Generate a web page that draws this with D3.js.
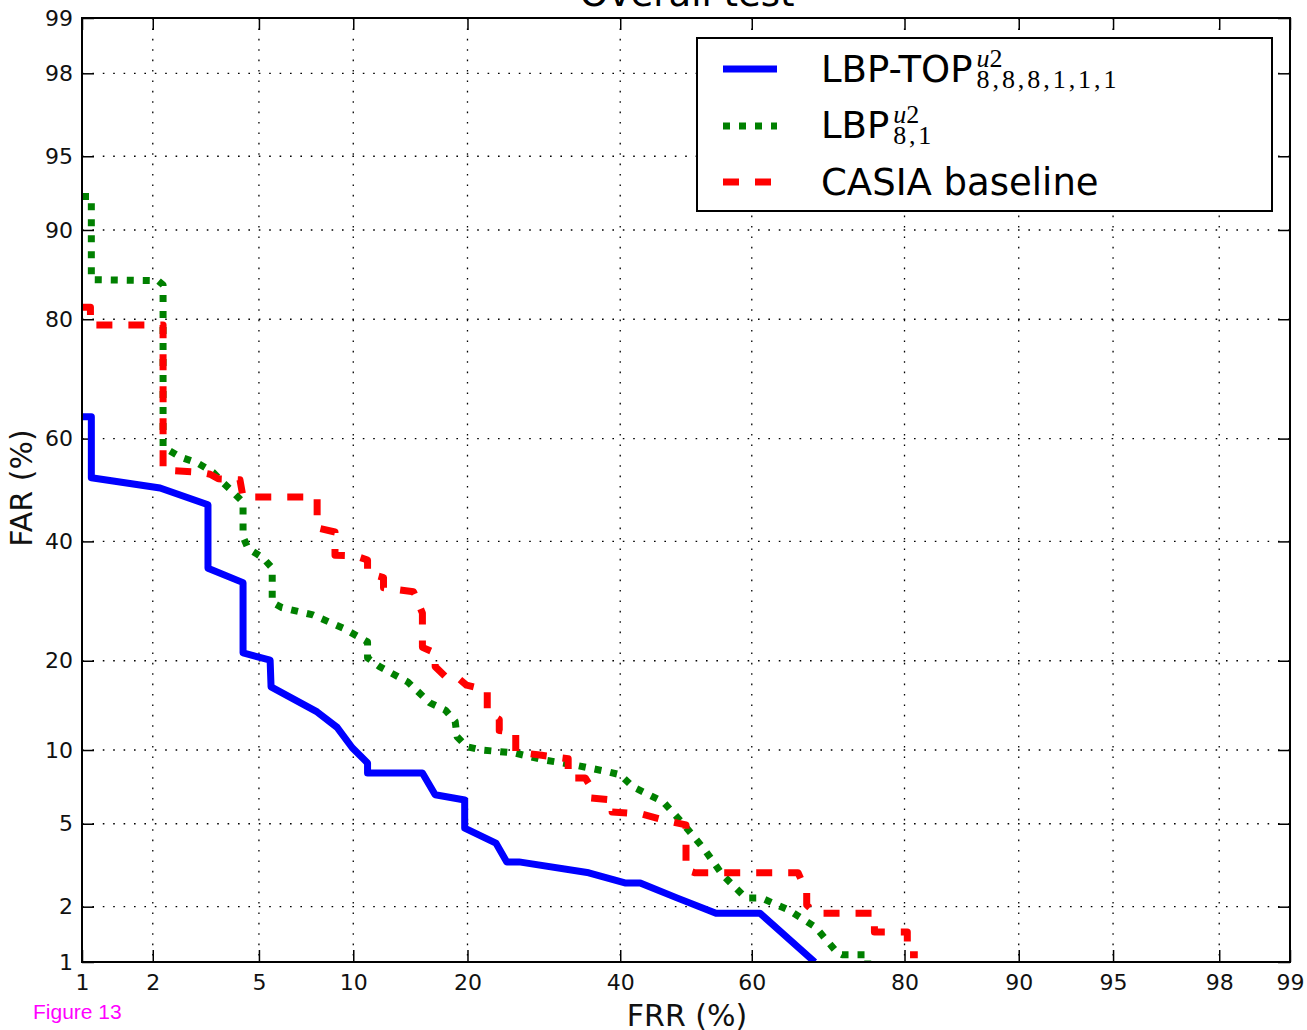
<!DOCTYPE html>
<html>
<head>
<meta charset="utf-8">
<script src="https://cdn.jsdelivr.net/npm/d3@7"></script>
<style>
  html, body { margin: 0; padding: 0; background: #fff; }
  svg { display: block; font-family: "DejaVu Sans", sans-serif; }
</style>
</head>
<body>
<svg id="chart" width="1307" height="1030"></svg>
<script>
// ---------- data (percent) ----------
const tickValues = [1, 2, 5, 10, 20, 40, 60, 80, 90, 95, 98, 99];

const seriesNames = ["LBP-TOP", "LBP", "CASIA baseline"];

const lbpTopFRR = [1.0, 1.10, 1.10, 2.14, 3.28, 3.28, 4.40, 4.40, 5.46, 5.5,
  7.77, 8.95, 9.93, 11.0, 11.0, 15.5, 16.7, 19.7, 19.7, 23.2,
  24.5, 26.0, 35.4, 40.7, 43.0, 48.6, 54.6, 61.2, 69.0];
const lbpTopFAR = [64.1, 64.1, 52.4, 50.4, 47.1, 35.0, 32.4, 21.1, 20.1, 16.6,
  13.7, 12.1, 10.2, 8.93, 8.15, 8.15, 6.65, 6.33, 4.78, 4.09,
  3.34, 3.34, 2.96, 2.64, 2.64, 2.22, 1.85, 1.85, 1.0];

const lbpFRR = [1.0, 1.10, 1.10, 2.10, 2.20, 2.20, 2.56, 2.99, 3.42, 3.70,
  4.05, 4.40, 4.40, 4.58, 5.16, 5.55, 5.55, 5.98, 7.54, 9.33,
  11.0, 11.0, 11.9, 14.2, 16.2, 17.7, 18.7, 18.9, 19.9, 21.6,
  25.4, 29.2, 33.4, 38.3, 40.0, 41.9, 46.5, 49.7, 52.9, 55.6,
  59.1, 61.4, 65.4, 69.1, 71.9, 72.6, 75.8, 75.8];
const lbpFAR = [92.6, 92.6, 85.0, 84.9, 84.4, 58.4, 56.5, 55.3, 53.5, 51.6,
  49.6, 47.6, 40.9, 38.7, 36.9, 35.0, 29.0, 28.1, 26.9, 24.8,
  22.7, 20.4, 19.2, 17.2, 14.7, 13.9, 12.7, 11.2, 10.3, 10.0,
  9.75, 9.17, 8.77, 8.23, 8.02, 7.17, 6.22, 4.94, 3.80, 2.89,
  2.22, 2.22, 1.92, 1.56, 1.14, 1.10, 1.10, 1.0];

const casiaFRR = [1.0, 1.09, 1.09, 2.20, 2.20, 3.06, 3.34, 3.58, 4.29, 4.40,
  7.77, 7.77, 8.82, 8.82, 10.1, 11.0, 11.0, 12.2, 12.2, 14.7,
  15.5, 15.5, 16.7, 16.7, 17.7, 19.0, 19.9, 22.2, 22.2, 23.6,
  23.6, 25.6, 25.6, 28.7, 32.5, 32.5, 34.9, 35.7, 35.7, 38.8,
  38.8, 43.2, 47.2, 50.0, 50.0, 51.4, 66.7, 67.9, 67.9, 69.1,
  76.6, 76.6, 80.3, 80.3, 81.4];
const casiaFAR = [81.6, 81.6, 79.2, 79.2, 53.9, 53.5, 53.1, 52.2, 52.0, 48.6,
  48.6, 42.6, 41.8, 37.4, 37.3, 36.5, 34.1, 33.3, 31.5, 30.8,
  27.2, 21.9, 21.1, 19.2, 17.9, 17.7, 16.8, 16.2, 13.7, 12.9,
  11.8, 11.6, 9.84, 9.57, 9.26, 7.79, 7.79, 7.17, 6.45, 6.33,
  5.63, 5.51, 5.14, 4.94, 3.05, 2.96, 2.96, 2.38, 2.04, 1.85,
  1.85, 1.47, 1.47, 1.10, 1.10];

// ---------- normal-deviate (probit) scale ----------
function probit(p) {
  const a = [-3.969683028665376e+01, 2.209460984245205e+02, -2.759285104469687e+02, 1.383577518672690e+02, -3.066479806614716e+01, 2.506628277459239e+00];
  const b = [-5.447609879822406e+01, 1.615858368580409e+02, -1.556989798598866e+02, 6.680131188771972e+01, -1.328068155288572e+01];
  const c = [-7.784894002430293e-03, -3.223964580411365e-01, -2.400758277161838e+00, -2.549732539343734e+00, 4.374664141464968e+00, 2.938163982698783e+00];
  const d = [7.784695709041462e-03, 3.224671290700398e-01, 2.445134137142996e+00, 3.754408661907416e+00];
  const pl = 0.02425, ph = 1 - pl;
  let q, r;
  if (p < pl) {
    q = Math.sqrt(-2 * Math.log(p));
    return (((((c[0]*q+c[1])*q+c[2])*q+c[3])*q+c[4])*q+c[5]) / ((((d[0]*q+d[1])*q+d[2])*q+d[3])*q+1);
  }
  if (p > ph) {
    q = Math.sqrt(-2 * Math.log(1 - p));
    return -(((((c[0]*q+c[1])*q+c[2])*q+c[3])*q+c[4])*q+c[5]) / ((((d[0]*q+d[1])*q+d[2])*q+d[3])*q+1);
  }
  q = p - 0.5; r = q * q;
  return (((((a[0]*r+a[1])*r+a[2])*r+a[3])*r+a[4])*r+a[5])*q / (((((b[0]*r+b[1])*r+b[2])*r+b[3])*r+b[4])*r+1);
}

function probitScale(range) {
  const lin = d3.scaleLinear().domain([probit(0.01), probit(0.99)]).range(range);
  const s = v => lin(probit(v / 100));
  s.domain = () => [1, 99];
  s.range = () => lin.range();
  s.copy = () => probitScale(range);
  return s;
}

const L = 82, R = 1290, T = 18, B = 962;
const x = probitScale([L, R]);
const y = probitScale([B, T]);

const SANS = '"DejaVu Sans", sans-serif';
const SERIF = '"Liberation Serif", "DejaVu Serif", serif';
const ARIAL = '"Liberation Sans", Arial, sans-serif';

const svg = d3.select("#chart");

// title (cut off at the top as in the source)
svg.append("text").attr("x", 687).attr("y", 6).attr("text-anchor", "middle")
  .style("font-family", SANS).attr("font-size", 37).attr("fill", "#000").text("Overall test");

// grid
const grid = svg.append("g");
grid.selectAll(".gx").data(tickValues.slice(1, -1)).enter().append("line")
  .attr("x1", d => x(d)).attr("x2", d => x(d)).attr("y1", T).attr("y2", B)
  .attr("stroke", "#000").attr("stroke-width", 1.3).attr("stroke-dasharray", "1.6,8.8");
grid.selectAll(".gy").data(tickValues.slice(1, -1)).enter().append("line")
  .attr("y1", d => y(d)).attr("y2", d => y(d)).attr("x1", L).attr("x2", R)
  .attr("stroke", "#000").attr("stroke-width", 1.3).attr("stroke-dasharray", "1.6,8.8");

// axes
const fmt = d => String(d);
const axB = svg.append("g").attr("transform", `translate(0,${B})`)
  .call(d3.axisBottom(x).tickValues(tickValues).tickFormat(fmt).tickSizeInner(-12).tickSizeOuter(0).tickPadding(12));
const axL = svg.append("g").attr("transform", `translate(${L},0)`)
  .call(d3.axisLeft(y).tickValues(tickValues).tickFormat(fmt).tickSizeInner(-12).tickSizeOuter(0).tickPadding(9));
const axT = svg.append("g").attr("transform", `translate(0,${T})`)
  .call(d3.axisTop(x).tickValues(tickValues).tickFormat("").tickSizeInner(-12).tickSizeOuter(0));
const axR = svg.append("g").attr("transform", `translate(${R},0)`)
  .call(d3.axisRight(y).tickValues(tickValues).tickFormat("").tickSizeInner(-12).tickSizeOuter(0));
[axB, axL, axT, axR].forEach(g => {
  g.select(".domain").remove();
  g.selectAll(".tick line").attr("stroke", "#000").attr("stroke-width", 1.5);
  g.selectAll(".tick text").style("font-family", SANS).attr("font-size", 22).attr("fill", "#111");
});

// clip
svg.append("clipPath").attr("id", "plotclip").append("rect")
  .attr("x", L).attr("y", T).attr("width", R - L).attr("height", B - T);

const zip = (a, b) => a.map((v, i) => [v, b[i]]);
const line = d3.line().x(d => x(d[0])).y(d => y(d[1]));
const plot = svg.append("g").attr("clip-path", "url(#plotclip)");

const styles = [
  { data: zip(lbpTopFRR, lbpTopFAR), color: "#0000ff", width: 7, dash: null },
  { data: zip(lbpFRR, lbpFAR), color: "#008000", width: 7, dash: "7,9" },
  { data: zip(casiaFRR, casiaFAR), color: "#ff0000", width: 7, dash: "16,16" }
];
styles.forEach(s => {
  plot.append("path").attr("d", line(s.data)).attr("fill", "none")
    .attr("stroke", s.color).attr("stroke-width", s.width)
    .attr("stroke-linejoin", "round")
    .attr("stroke-dasharray", s.dash);
});

// frame
svg.append("rect").attr("x", L).attr("y", T).attr("width", R - L).attr("height", B - T)
  .attr("fill", "none").attr("stroke", "#000").attr("stroke-width", 2);

// axis labels
svg.append("text").attr("x", 687).attr("y", 1026).attr("text-anchor", "middle")
  .style("font-family", SANS).attr("font-size", 30).attr("fill", "#111").text("FRR (%)");
svg.append("text").attr("transform", "translate(32,488) rotate(-90)").attr("text-anchor", "middle")
  .style("font-family", SANS).attr("font-size", 30).attr("fill", "#111").text("FAR (%)");

// figure caption
svg.append("text").attr("x", 33).attr("y", 1019).style("font-family", ARIAL)
  .attr("font-size", 21).attr("fill", "#ff00ff").text("Figure 13");

// legend
const lg = svg.append("g");
lg.append("rect").attr("x", 697).attr("y", 38).attr("width", 575).attr("height", 173)
  .attr("fill", "#fff").attr("stroke", "#000").attr("stroke-width", 2);
const rowsY = [82, 138, 195];
const sampleY = [69, 126, 182];
styles.forEach((s, i) => {
  lg.append("line").attr("x1", 723).attr("x2", 777).attr("y1", sampleY[i]).attr("y2", sampleY[i])
    .attr("stroke", s.color).attr("stroke-width", s.width).attr("stroke-dasharray", s.dash);
});
const subs = ["8,8,8,1,1,1", "8,1", null];
const subLen = [140, 38, 0];
seriesNames.forEach((name, i) => {
  const t = lg.append("text").attr("x", 821).attr("y", rowsY[i]).attr("fill", "#000");
  const main = t.append("tspan").style("font-family", SANS).attr("font-size", 37).text(name);
  if (subs[i]) {
    const xe = 821 + main.node().getComputedTextLength() + 4;
    t.append("tspan").attr("x", xe).attr("y", rowsY[i] - 15)
      .style("font-family", SERIF).attr("font-size", 26).attr("font-style", "italic").text("u");
    t.append("tspan").style("font-family", SERIF).attr("font-size", 26).text("2");
    t.append("tspan").attr("x", xe).attr("y", rowsY[i] + 6)
      .style("font-family", SERIF).attr("font-size", 26)
      .attr("textLength", subLen[i]).attr("lengthAdjust", "spacing").text(subs[i]);
  }
});
</script>
</body>
</html>
